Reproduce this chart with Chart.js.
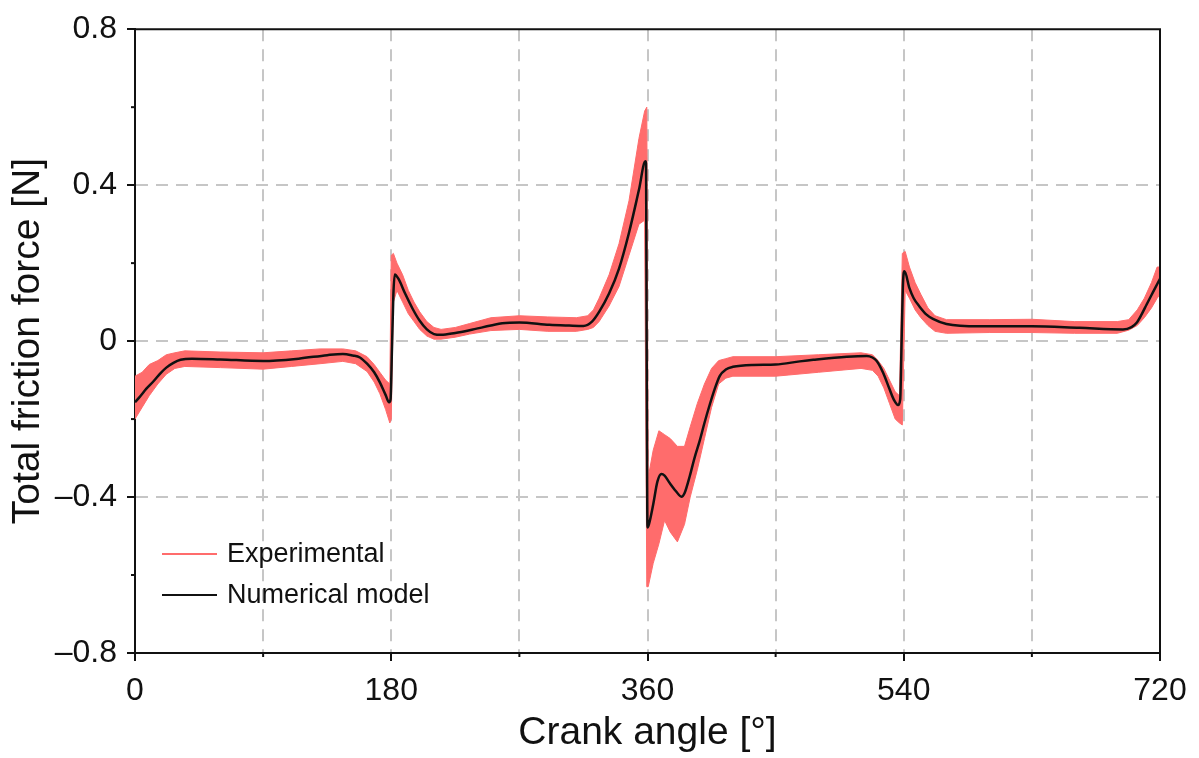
<!DOCTYPE html>
<html>
<head>
<meta charset="utf-8">
<script src="https://cdn.jsdelivr.net/npm/chart.js@4.4.0/dist/chart.umd.min.js"></script>
<style>
  html, body { margin: 0; padding: 0; background: #fff; }
  #wrap { position: relative; width: 1199px; height: 758px; }
  #legend { position: absolute; left: 162px; top: 533px; font-family: "Liberation Sans", Arial, sans-serif; font-size: 27px; color: #111; }
  #legend .row { display: flex; align-items: center; height: 41px; }
  #legend .swatch { width: 55px; height: 0; border-top-style: solid; margin-right: 10px; }
</style>
</head>
<body>
<div id="wrap">
  <canvas id="chart-friction" width="1199" height="758"></canvas>
  <div id="legend">
    <div class="row"><span class="swatch" style="border-top-width:2px;border-top-color:#ff6c6c"></span>Experimental</div>
    <div class="row"><span class="swatch" style="border-top-width:2px;border-top-color:#111"></span>Numerical model</div>
  </div>
</div>
<script>
// numerical model (black line)
const modelAngle = [0, 4, 8, 13, 18, 22, 27, 32, 40, 60, 90, 115, 135, 146, 153, 158, 163, 168, 172, 176, 178.5, 179.5, 180.5, 181.5, 182.5,
    185, 190, 195, 200, 205, 210, 215, 225, 235, 250, 258, 270, 291, 305, 315, 321, 326, 333, 340, 347, 354, 358.5, 359, 359.4, 360,
    361, 364, 367, 369.8, 372, 375.6, 380, 383.8, 386, 389.7, 393, 396.8, 400, 403.8, 407, 410.8, 415, 420, 434, 450, 467, 476.5,
    500, 514, 518, 521, 525.5, 530, 533, 536, 537.5, 538.5, 539.5, 540.5, 544, 547, 551, 556, 560.5, 570, 593, 630, 663.5, 694,
    700, 703.6, 707, 710.6, 715, 720];
const modelForce = [-0.157, -0.14, -0.122, -0.103, -0.082, -0.068, -0.056, -0.048, -0.045, -0.047, -0.051, -0.045, -0.036, -0.033,
    -0.037, -0.042, -0.058, -0.08, -0.106, -0.138, -0.157, -0.15, -0.02, 0.12, 0.171,
    0.16, 0.12, 0.083, 0.052, 0.03, 0.018, 0.016, 0.021, 0.028, 0.04, 0.046, 0.048, 0.042, 0.04, 0.039, 0.05, 0.075, 0.122, 0.186,
    0.278, 0.388, 0.461, 0.455, 0.0, -0.478,
    -0.47, -0.419, -0.36, -0.341, -0.345, -0.364, -0.385, -0.399, -0.39, -0.346, -0.3, -0.254, -0.21, -0.162, -0.125, -0.089,
    -0.073, -0.066, -0.061, -0.06, -0.052, -0.048,
    -0.04, -0.038, -0.042, -0.051, -0.081, -0.123, -0.15, -0.164, -0.15, 0.0, 0.15, 0.179, 0.136, 0.11, 0.089, 0.068, 0.057,
    0.044, 0.038, 0.038, 0.034, 0.03,
    0.036, 0.047, 0.068, 0.094, 0.125, 0.16];

// experimental signal, read as upper / lower edge of the noisy band
const expAngle = [0, 5, 10, 16, 22, 28, 35, 60, 90, 110, 130, 146, 155, 163, 168, 172, 176, 179, 180, 181.5, 184, 188, 192, 196,
    200, 205, 210, 215, 225, 235, 250, 270, 290, 310, 318, 322, 326, 333, 340, 347, 354, 358, 359.5, 360.5, 364, 368, 372, 376,
    381, 386, 390, 395, 400, 405, 410, 415, 420, 450, 480, 510, 518, 522, 526, 530, 534, 537, 539, 541, 544, 548, 552, 557, 562,
    570, 600, 630, 660, 690, 698, 704, 709, 714, 718, 720];
const expUpper = [-0.09, -0.08, -0.06, -0.05, -0.035, -0.03, -0.025, -0.028, -0.03, -0.025, -0.02, -0.02, -0.025, -0.04, -0.06,
    -0.08, -0.1, -0.11, 0.22, 0.225, 0.2, 0.17, 0.13, 0.1,
    0.075, 0.05, 0.035, 0.03, 0.035, 0.045, 0.06, 0.065, 0.062, 0.06, 0.065, 0.08, 0.11, 0.17, 0.25, 0.36, 0.52, 0.59, 0.6, -0.35,
    -0.28, -0.23, -0.24, -0.25,
    -0.27, -0.27, -0.22, -0.16, -0.11, -0.07, -0.05, -0.045, -0.04, -0.04, -0.035, -0.03, -0.035, -0.05, -0.07, -0.1, -0.13,
    -0.14, 0.225, 0.23, 0.19, 0.15, 0.12, 0.085, 0.065,
    0.055, 0.055, 0.056, 0.05, 0.05, 0.055, 0.08, 0.11, 0.15, 0.19, 0.19];
const expLower = [-0.2, -0.17, -0.14, -0.11, -0.085, -0.07, -0.065, -0.068, -0.072, -0.065, -0.058, -0.052, -0.058, -0.078, -0.105,
    -0.135, -0.175, -0.21, -0.2, 0.1, 0.13, 0.1, 0.07, 0.05,
    0.03, 0.013, 0.005, 0.005, 0.01, 0.018, 0.027, 0.03, 0.025, 0.025, 0.03, 0.035, 0.05, 0.09, 0.14, 0.22, 0.3, 0.31, -0.63, -0.63,
    -0.57, -0.52, -0.46, -0.49,
    -0.515, -0.47, -0.4, -0.33, -0.25, -0.17, -0.11, -0.095, -0.09, -0.09, -0.08, -0.07, -0.075, -0.09, -0.12, -0.16, -0.2,
    -0.21, -0.215, 0.13, 0.11, 0.08, 0.06, 0.04, 0.025,
    0.02, 0.022, 0.022, 0.02, 0.02, 0.028, 0.04, 0.06, 0.085, 0.11, 0.12];

const xLabels = [0, 180, 360, 540, 720];
const yLabels = [-0.8, -0.4, 0, 0.4, 0.8];

const RED = '#ff6c6c';
const FONT = '"Liberation Sans", Arial, sans-serif';

function toPoints(xs, ys) {
    return xs.map((x, i) => ({ x: x, y: ys[i] }));
}

function isLabelled(list, v) {
    return list.some(l => Math.abs(l - v) < 1e-6);
}

function yText(v) {
    if (Math.abs(v) < 1e-6) return '0';
    const s = Math.abs(v).toFixed(1);
    return v < 0 ? '\u2013' + s : s;
}

// frame on top/right and the short minor ticks
const framePlugin = {
    id: 'frame',
    afterDraw(chart) {
        const ctx = chart.ctx;
        const a = chart.chartArea;
        ctx.save();
        ctx.strokeStyle = '#111';
        ctx.lineWidth = 2;
        ctx.beginPath();
        ctx.moveTo(a.left, a.top);
        ctx.lineTo(a.right, a.top);
        ctx.lineTo(a.right, a.bottom);
        ctx.stroke();

        const xs = chart.scales.x;
        xs.ticks.forEach(t => {
            if (isLabelled(xLabels, t.value)) return;
            const px = xs.getPixelForValue(t.value);
            ctx.beginPath();
            ctx.moveTo(px, a.bottom);
            ctx.lineTo(px, a.bottom + 4);
            ctx.stroke();
        });
        const ys = chart.scales.y;
        ys.ticks.forEach(t => {
            if (isLabelled(yLabels, t.value)) return;
            const py = ys.getPixelForValue(t.value);
            ctx.beginPath();
            ctx.moveTo(a.left - 4, py);
            ctx.lineTo(a.left, py);
            ctx.stroke();
        });
        ctx.restore();
    }
};

const ctx = document.getElementById('chart-friction');
new Chart(ctx, {
    type: 'line',
    data: {
        datasets: [
            {
                label: 'Numerical model',
                data: toPoints(modelAngle, modelForce),
                borderColor: '#111',
                borderWidth: 2.5,
                pointRadius: 0,
                cubicInterpolationMode: 'monotone',
                fill: false
            },
            {
                label: 'Experimental',
                data: toPoints(expAngle, expUpper),
                borderColor: RED,
                backgroundColor: RED,
                borderWidth: 1,
                pointRadius: 0,
                tension: 0,
                fill: '+1'
            },
            {
                label: 'Experimental (lower)',
                data: toPoints(expAngle, expLower),
                borderColor: RED,
                borderWidth: 1,
                pointRadius: 0,
                tension: 0,
                fill: false
            }
        ]
    },
    options: {
        responsive: false,
        animation: false,
        layout: { padding: { top: 27, right: 39, left: 0, bottom: 0 } },
        plugins: {
            legend: { display: false },
            tooltip: { enabled: false }
        },
        scales: {
            x: {
                type: 'linear',
                min: 0,
                max: 720,
                afterFit: s => { s.height = 105; },
                ticks: {
                    stepSize: 90,
                    autoSkip: false,
                    maxRotation: 0,
                    padding: 11,
                    color: '#111',
                    font: { family: FONT, size: 32 },
                    callback: v => isLabelled(xLabels, v) ? String(v) : ''
                },
                grid: {
                    color: c => (c.tick && (c.tick.value === 0 || c.tick.value === 720)) ? 'rgba(0,0,0,0)' : '#c6c6c6',
                    lineWidth: 2,
                    tickLength: 8,
                    tickWidth: 2,
                    tickColor: c => (c.tick && isLabelled(xLabels, c.tick.value)) ? '#111' : 'rgba(0,0,0,0)'
                },
                border: { display: true, color: '#111', width: 2, dash: [12, 8] },
                title: {
                    display: true,
                    text: 'Crank angle [°]',
                    color: '#111',
                    font: { family: FONT, size: 39 },
                    padding: { top: 0, bottom: 1 }
                }
            },
            y: {
                min: -0.8,
                max: 0.8,
                afterFit: s => { s.width = 135; },
                ticks: {
                    stepSize: 0.2,
                    autoSkip: false,
                    padding: 10,
                    color: '#111',
                    font: { family: FONT, size: 32 },
                    callback: v => isLabelled(yLabels, v) ? yText(v) : ''
                },
                grid: {
                    color: c => {
                        const v = c.tick ? c.tick.value : 0;
                        return (isLabelled([-0.4, 0, 0.4], v)) ? '#c6c6c6' : 'rgba(0,0,0,0)';
                    },
                    lineWidth: 2,
                    tickLength: 8,
                    tickWidth: 2,
                    tickColor: c => (c.tick && isLabelled(yLabels, c.tick.value)) ? '#111' : 'rgba(0,0,0,0)'
                },
                border: { display: true, color: '#111', width: 2, dash: [12, 8] },
                title: {
                    display: true,
                    text: 'Total friction force [N]',
                    color: '#111',
                    font: { family: FONT, size: 39 },
                    padding: { top: 5, bottom: 0 }
                }
            }
        }
    },
    plugins: [framePlugin]
});
</script>
</body>
</html>
